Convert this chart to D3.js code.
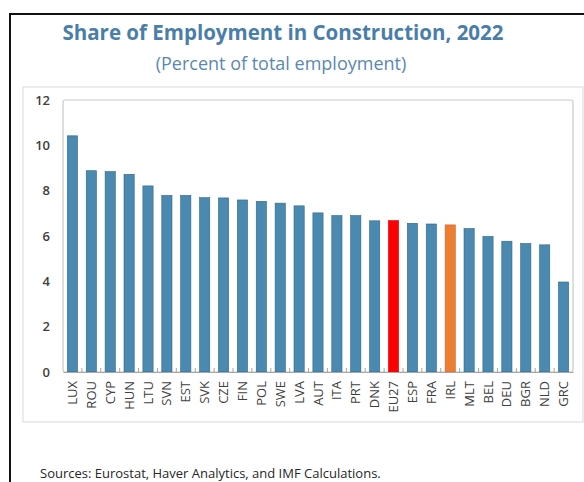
<!DOCTYPE html>
<html>
<head>
<meta charset="utf-8">
<script src="https://cdn.jsdelivr.net/npm/d3@7"></script>
<style>
  body { margin: 0; background: #fff; }
  svg { display: block; font-family: "Open Sans", "DejaVu Sans", sans-serif; }
</style>
</head>
<body>
<div id="chart"></div>
<script>
// data
var countries = ["LUX","ROU","CYP","HUN","LTU","SVN","EST","SVK","CZE","FIN","POL","SWE","LVA","AUT",
                 "ITA","PRT","DNK","EU27","ESP","FRA","IRL","MLT","BEL","DEU","BGR","NLD","GRC"];
var shares = [10.42, 8.88, 8.84, 8.72, 8.21, 7.79, 7.79, 7.69, 7.68, 7.59, 7.53, 7.45, 7.33, 7.02,
              6.90, 6.90, 6.67, 6.68, 6.56, 6.53, 6.49, 6.33, 5.98, 5.77, 5.67, 5.61, 3.97];
var yTicks = [0, 2, 4, 6, 8, 10, 12];

var data = countries.map(function (c, i) { return { country: c, value: shares[i] }; });

var svgWidth = 584, svgHeight = 482;
var margin = { top: 100, right: 11, bottom: 110, left: 63 };
var width = svgWidth - margin.left - margin.right;
var height = 372 - margin.top;

var svg = d3.select("#chart")
    .append("svg")
    .attr("width", svgWidth)
    .attr("height", svgHeight);

// outer black frame (runs off the right and bottom)
svg.append("path")
    .attr("d", "M10,490 L10,14 L590,14")
    .attr("fill", "none")
    .attr("stroke", "#111")
    .attr("stroke-width", 2);

// titles
svg.append("text")
    .attr("x", 283).attr("y", 40)
    .attr("text-anchor", "middle")
    .style("font-size", "20.5px").style("font-weight", "bold")
    .style("fill", "#4a7eaa")
    .text("Share of Employment in Construction, 2022");

svg.append("text")
    .attr("x", 281).attr("y", 70)
    .attr("text-anchor", "middle")
    .style("font-size", "18px")
    .style("fill", "#5a88b0")
    .text("(Percent of total employment)");

// inner light chart box
svg.append("rect")
    .attr("x", 23).attr("y", 87)
    .attr("width", 560).attr("height", 335)
    .attr("fill", "none")
    .attr("stroke", "#d9d9d9");

var g = svg.append("g")
    .attr("transform", "translate(" + margin.left + "," + margin.top + ")");

var x = d3.scaleBand()
    .domain(countries)
    .range([0, width])
    .paddingInner(0.46)
    .paddingOuter(0.23);

var y = d3.scaleLinear()
    .domain([0, 12])
    .range([height, 0]);

// plot border
g.append("rect")
    .attr("x", 0).attr("y", 0)
    .attr("width", width).attr("height", height)
    .attr("rx", 2)
    .attr("fill", "none")
    .attr("stroke", "#c8c8c8")
    .attr("stroke-width", 1.2);

var colorOf = function (c) {
    if (c == "EU27") return "#ff0000";
    if (c == "IRL") return "#ed7d31";
    return "#4a8ab0";
};
var edgeOf = function (c) {
    if (c == "EU27") return "#e00000";
    if (c == "IRL") return "#c8692a";
    return "#2f6486";
};

g.selectAll(".bar")
    .data(data)
    .enter()
    .append("rect")
    .attr("class", "bar")
    .attr("x", function (d) { return x(d.country); })
    .attr("y", function (d) { return y(d.value); })
    .attr("width", x.bandwidth())
    .attr("height", function (d) { return height - y(d.value); })
    .attr("fill", function (d) { return colorOf(d.country); })
    .attr("stroke", function (d) { return edgeOf(d.country); })
    .attr("stroke-width", 0.6);

// y axis labels
var yAxis = g.append("g")
    .call(d3.axisLeft(y).tickValues(yTicks).tickSize(0).tickPadding(13));
yAxis.select(".domain").remove();
yAxis.selectAll("text")
    .style("font-size", "13px")
    .style("font-family", "\"Open Sans\", sans-serif")
    .style("font-weight", "600")
    .style("fill", "#404040");

// x axis: zero line, small ticks between bars, rotated labels
var xAxis = g.append("g")
    .attr("transform", "translate(0," + height + ")")
    .call(d3.axisBottom(x).tickSize(0).tickPadding(0));
xAxis.select(".domain").attr("stroke", "#a6a6a6").attr("stroke-width", 1.2);

var step = x.step();
g.append("g")
    .selectAll("line")
    .data(countries.slice(1))
    .enter()
    .append("line")
    .attr("x1", function (d) { return x(d) - (step - x.bandwidth()) / 2; })
    .attr("x2", function (d) { return x(d) - (step - x.bandwidth()) / 2; })
    .attr("y1", height)
    .attr("y2", height - 4)
    .attr("stroke", "#a6a6a6");

xAxis.selectAll("text")
    .attr("transform", "rotate(-90)")
    .attr("x", -9)
    .attr("y", 0)
    .attr("dy", "0.35em")
    .attr("text-anchor", "end")
    .style("font-size", "13px")
    .style("font-family", "\"Open Sans\", sans-serif")
    .style("fill", "#404040");

// source note
svg.append("text")
    .attr("x", 40).attr("y", 478)
    .style("font-size", "13px")
    .style("fill", "#262626")
    .text("Sources: Eurostat, Haver Analytics, and IMF Calculations.");
</script>
</body>
</html>
